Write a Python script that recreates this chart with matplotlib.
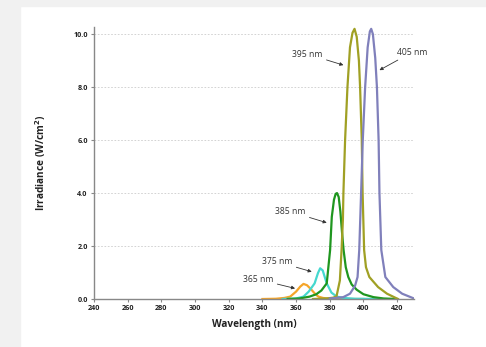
import numpy as np
import matplotlib.pyplot as plt
from matplotlib.patches import Rectangle

# LED spectra, irradiance in W/cm^2 vs wavelength in nm
wl_365 = [340, 348, 353, 356.5, 360, 362.5, 364.4, 366.5, 369, 371.5, 373.3, 376, 380, 390, 400]
ir_365 = [0.0, 0.01, 0.04, 0.09, 0.28, 0.47, 0.57, 0.52, 0.36, 0.18, 0.09, 0.04, 0.01, 0.0, 0.0]

wl_375 = [352, 360, 364.4, 367.5, 371, 373, 374.3, 375.8, 378.2, 381, 384.2, 388, 395, 410]
ir_375 = [0.0, 0.02, 0.09, 0.28, 0.59, 0.98, 1.16, 1.08, 0.59, 0.24, 0.09, 0.04, 0.01, 0.0]

wl_385 = [355, 362, 368, 372, 375, 378.2, 380.2, 381.2, 382.5, 383.5, 384.3, 385.3, 386.3, 387.3,
          388.2, 389.5, 391, 393, 396, 400, 406, 412, 420]
ir_385 = [0.0, 0.02, 0.09, 0.18, 0.32, 0.59, 1.85, 3.1, 3.75, 3.97, 4.0, 3.85, 3.3, 2.5,
          1.85, 1.2, 0.83, 0.55, 0.35, 0.18, 0.07, 0.02, 0.0]

wl_395 = [370, 378, 382, 384, 386, 387, 387.8, 388.1, 389.1, 390.5, 392, 393.5, 394.7, 396, 397.3,
          398, 399, 399.5, 400.4, 401.5, 403.5, 408.7, 414, 420.5]
ir_395 = [0.0, 0.02, 0.05, 0.1, 0.7, 1.85, 3.0, 4.0, 6.0, 8.0, 9.5, 10.05, 10.2, 9.9, 9.0,
          8.0, 6.0, 4.0, 1.85, 1.2, 0.83, 0.45, 0.2, 0.0]

wl_405 = [380, 388, 392, 395, 396.5, 397.5, 398.6, 399.6, 401, 402.5, 403.8, 404.6, 405.6,
          407, 408, 409, 409.5, 410.6, 413, 417.7, 423, 430]
ir_405 = [0.02, 0.07, 0.2, 0.5, 0.83, 1.85, 4.0, 6.0, 8.0, 9.5, 10.1, 10.2, 10.0,
          9.1, 8.0, 6.0, 4.0, 1.85, 0.83, 0.45, 0.2, 0.02]

labels = ['365 nm', '375 nm', '385 nm', '395 nm', '405 nm']
colors = ['#f5a52a', '#45d8cf', '#1f961f', '#a0a024', '#8080bb']
xticks = [240, 260, 280, 300, 320, 340, 360, 380, 400, 420]
yticks = [0.0, 2.0, 4.0, 6.0, 8.0, 10.0]

# arrow heads (on curve) and label positions
arrow_xy = [(359.4, 0.40), (369.3, 1.03), (378.2, 2.88), (388.1, 8.83), (409.5, 8.64)]
text_xy = [(337.4, 0.74), (348.7, 1.41), (356.5, 3.30), (366.6, 9.25), (429.0, 9.32)]

plt.rcParams['font.family'] = ['Open Sans', 'DejaVu Sans']

fig = plt.figure(figsize=(4.86, 3.47), dpi=100)
fig.patches.append(Rectangle((0, 0), 0.042, 1, transform=fig.transFigure,
                             color='#f1f1f1', zorder=0))
fig.patches.append(Rectangle((0, 0.983), 1, 0.017, transform=fig.transFigure,
                             color='#f1f1f1', zorder=0))
ax = fig.add_axes([0.1934, 0.1383, 0.6584, 0.7847])

series = [(wl_365, ir_365), (wl_375, ir_375), (wl_385, ir_385),
          (wl_395, ir_395), (wl_405, ir_405)]
for (x, y), c in zip(series, colors):
    ax.plot(x, y, color=c, lw=1.6, solid_joinstyle='round')

for lab, a, t in zip(labels, arrow_xy, text_xy):
    ax.annotate(lab, xy=a, xytext=t, ha='center', va='center', fontsize=6.2,
                color='#333333',
                arrowprops=dict(arrowstyle='-|>', color='#333333', lw=0.6,
                                mutation_scale=5, shrinkA=1, shrinkB=0))

ax.set_xlim(240, 430)
ax.set_ylim(0, 10.28)
ax.set_xticks(xticks)
ax.set_yticks(yticks)
ax.set_yticklabels([f'{v:.1f}' for v in yticks])
ax.yaxis.grid(True, ls=(0, (2, 2)), color='#cccccc', lw=0.6)
ax.set_axisbelow(True)
for s in ['top', 'right']:
    ax.spines[s].set_visible(False)
for s in ['left', 'bottom']:
    ax.spines[s].set_color('#888888')
    ax.spines[s].set_linewidth(1.0)
ax.tick_params(axis='both', length=2.5, width=0.8, color='#888888', labelsize=5.2,
               pad=2, labelcolor='#222222')
for t in ax.get_xticklabels() + ax.get_yticklabels():
    t.set_fontweight('bold')

ax.set_xlabel('Wavelength (nm)', fontsize=7.2, fontweight='bold', color='#222222', labelpad=5)
ax.set_ylabel('Irradiance (W/cm$^\\mathbf{2}$)', fontsize=7.2, fontweight='bold',
              color='#222222', labelpad=18)

fig.savefig('out.png', dpi=100)
